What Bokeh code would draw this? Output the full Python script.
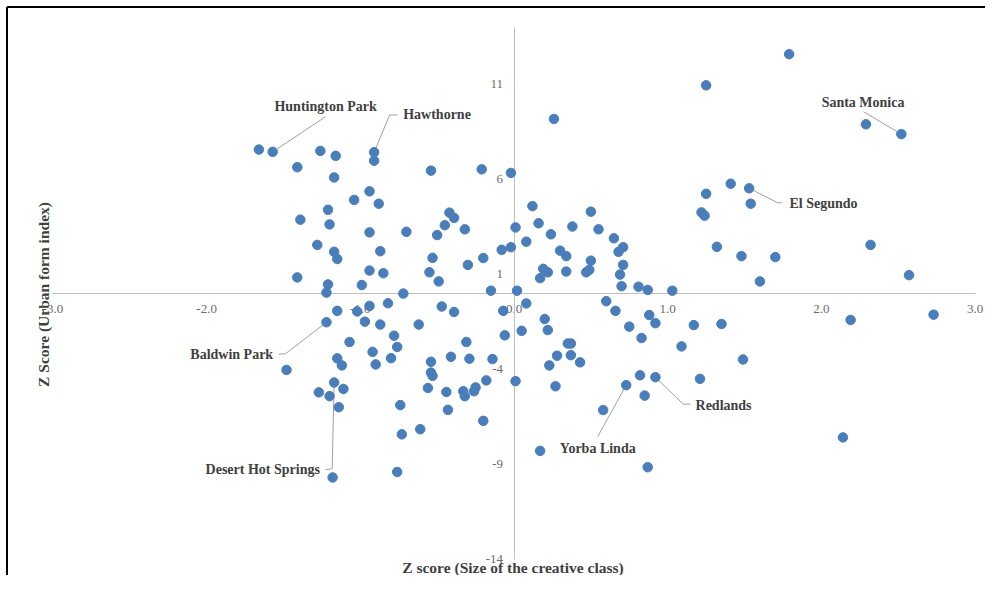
import math
from bokeh.plotting import figure
from bokeh.models import (Range1d, LinearAxis, FixedTicker, NumeralTickFormatter,
                          ColumnDataSource, Label)
from bokeh.embed import file_html
from bokeh.resources import INLINE

# ---------------- data ----------------
x_ticks = [-3, -2, -1, 0, 1, 2, 3]
y_ticks = [-14, -9, -4, 1, 6, 11]

creative_z = [
    # upper left
    -1.66, -1.26, -1.16, -0.91, -1.41, -1.17, -0.54, -0.21, -0.94, -1.04, -0.88, -1.21, -1.39,
    -1.20, -0.42, -0.39, -0.45, -0.32, -0.50, -0.94, -0.70, -1.28, -1.17, -1.15, -0.87, -0.53,
    -0.20, -0.30, -1.41, -0.94, -0.85, -0.55, -0.49, -1.21, -0.99, -1.22, -0.72, -0.15,
    # upper centre
    -0.02, 0.12, 0.50, 0.16, 0.01, 0.38, 0.55, 0.24, 0.08, 0.65, -0.08, -0.02, 0.30, 0.34, 0.68,
    0.71, 0.50, 0.19, 0.22, 0.17, 0.34, 0.47, 0.49, 0.71, 0.69, 0.70, 0.81, 0.87, 1.03, 0.02, 0.26,
    # upper right
    1.79, 1.25, 2.29, 1.41, 1.54, 1.25, 1.22, 1.24, 1.32, 1.48, 1.70, 2.32, 1.60, 2.57,
    # lower left
    -1.15, -1.02, -0.94, -0.82, -0.97, -0.87, -0.62, -0.47, -0.39, -0.78, -0.76, -1.07, -0.92,
    -0.80, -0.90, -1.15, -1.12, -1.48, -1.11, -1.27, -1.20, -1.14, -0.74, -0.73, -0.61, -0.76,
    -1.18, -0.54, -0.54, -0.53, -0.41, -0.29, -0.31, -0.56, -0.44, -0.33, -0.32, -0.26, -0.25,
    -0.18, -0.43, -0.20, -0.14,
    # lower right
    -0.07, 0.08, -0.06, 0.05, 0.20, 0.22, 0.35, 0.37, 0.37, 0.28, 0.23, 0.43, 0.01, 0.27, 0.60,
    0.66, 0.88, 0.92, 0.75, 0.83, 1.17, 1.35, 1.09, 0.82, 0.85, 1.21, 0.58, 0.17, 0.87, 1.49,
    2.14, 2.19, 2.73,
]
urban_z = [
    7.55, 7.48, 7.22, 6.96, 6.62, 6.08, 6.44, 6.51, 5.35, 4.90, 4.70, 4.38, 3.86,
    3.61, 4.23, 3.95, 3.57, 3.35, 3.05, 3.19, 3.22, 2.53, 2.17, 1.79, 2.20, 1.85,
    1.84, 1.48, 0.82, 1.18, 1.04, 1.09, 0.61, 0.45, 0.42, 0.02, -0.03, 0.12,
    6.32, 4.57, 4.28, 3.67, 3.45, 3.50, 3.35, 3.09, 2.70, 2.88, 2.27, 2.41, 2.23, 1.94, 2.17,
    2.41, 1.70, 1.27, 1.09, 0.78, 1.13, 1.09, 1.22, 1.48, 0.97, 0.36, 0.33, 0.16, 0.12, 0.12, 9.16,
    12.57, 10.93, 8.88, 5.75, 4.70, 5.22, 4.24, 4.07, 2.43, 1.94, 1.89, 2.53, 0.61, 0.94,
    -0.94, -0.97, -0.68, -0.54, -1.51, -1.66, -1.66, -0.71, -1.00, -2.25, -2.84, -2.58, -3.10,
    -3.43, -3.76, -3.44, -3.81, -4.05, -5.05, -5.23, -5.43, -6.01, -5.90, -7.44, -7.17, -9.42,
    -9.71, -3.62, -4.19, -4.36, -3.36, -3.46, -2.58, -5.00, -5.21, -5.17, -5.43, -5.17, -4.97,
    -4.60, -6.15, -6.73, -3.48,
    -0.94, -0.55, -2.23, -1.99, -1.37, -1.95, -2.66, -2.66, -3.27, -3.30, -3.81, -3.65, -4.64,
    -4.91, -0.43, -0.94, -1.16, -1.59, -1.77, -2.37, -1.69, -1.63, -2.81, -4.33, -5.40, -4.52,
    -6.16, -8.31, -9.17, -3.50, -7.60, -1.42, -1.14,
]

labeled_cities = ["Huntington Park", "Hawthorne", "Santa Monica", "El Segundo",
                  "Baldwin Park", "Desert Hot Springs", "Redlands", "Yorba Linda"]
labeled_creative_z = [-1.57, -0.91, 2.52, 1.53, -1.22, -1.17, 0.92, 0.73]
labeled_urban_z = [7.43, 7.41, 8.36, 5.51, -1.54, -4.71, -4.43, -4.85]

x_title = "Z score (Size of the creative class)"
y_title = "Z Score (Urban form index)"

# ---------------- layout ----------------
W, H = 985, 575
X0_PX, Y0_PX = 513.5, 292.5          # origin inside the canvas (px from top-left)
PX_PER_X, PX_PER_Y = 153.7, 19.0

x_range = Range1d(-X0_PX / PX_PER_X, (W - X0_PX) / PX_PER_X)
y_range = Range1d(-(H - Y0_PX) / PX_PER_Y, Y0_PX / PX_PER_Y)


def px_to_data(px, py):
    return (px - X0_PX) / PX_PER_X, (Y0_PX - py) / PX_PER_Y


# label anchor (x, y, align) and elbow points of leader lines, in data units
label_layout = {
    "Huntington Park": ((-1.226, 9.80, "center"), [(-1.226, 9.28)]),
    "Hawthorne": ((-0.721, 9.39, "left"), [(-0.758, 9.37), (-0.809, 9.37)]),
    "Santa Monica": ((2.271, 10.01, "center"), [(2.274, 9.54)]),
    "El Segundo": ((1.792, 4.73, "left"), [(1.745, 4.75), (1.716, 4.75)]),
    "Baldwin Park": ((-1.567, -3.22, "right"), [(-1.530, -3.22), (-1.487, -3.20)]),
    "Desert Hot Springs": ((-1.263, -9.30, "right"), [(-1.226, -9.30), (-1.183, -9.25)]),
    "Redlands": ((1.181, -5.90, "left"), [(1.148, -5.85), (1.101, -5.85)]),
    "Yorba Linda": ((0.545, -8.17, "center"), [(0.545, -7.55)]),
}

SERIF = "Liberation Serif"
DOT = "#4A7EBB"
LABEL_COLOR = "#404040"

p = figure(width=W, height=H, output_backend="svg", toolbar_location=None,
           x_range=x_range, y_range=y_range, x_axis_location=None, y_axis_location=None,
           min_border=0, title=None)
p.grid.visible = False
p.outline_line_color = None
p.background_fill_color = "white"
p.border_fill_color = "white"

# axes crossing at origin
xaxis = LinearAxis(fixed_location=0, bounds=(x_ticks[0], x_ticks[-1]),
                   ticker=FixedTicker(ticks=x_ticks),
                   formatter=NumeralTickFormatter(format="0.0"))
yaxis = LinearAxis(fixed_location=0, bounds=(y_ticks[0], 14),
                   ticker=FixedTicker(ticks=y_ticks),
                   formatter=NumeralTickFormatter(format="0"))
for ax, standoff in ((xaxis, 12), (yaxis, 11)):
    ax.axis_line_color = "#bfbfbf"
    ax.axis_line_width = 1
    ax.major_tick_line_color = None
    ax.minor_tick_line_color = None
    ax.major_tick_in = 0
    ax.major_tick_out = 0
    ax.major_label_standoff = standoff
    ax.major_label_text_font = SERIF
    ax.major_label_text_font_size = "13px"
    ax.major_label_text_color = "#6b6b6b"
    ax.level = "underlay"
p.add_layout(xaxis, "below")
p.add_layout(yaxis, "left")

# chart border (top / left)
bx, by = px_to_data(6.5, 6.5)
p.line([bx, bx], [y_range.start, by], line_color="black", line_width=2)
p.line([bx, x_range.end], [by, by], line_color="black", line_width=2)

# leader lines
lx, ly = [], []
for name, cx, cy in zip(labeled_cities, labeled_creative_z, labeled_urban_z):
    _, elbow = label_layout[name]
    lx.append([pt[0] for pt in elbow] + [cx])
    ly.append([pt[1] for pt in elbow] + [cy])
p.multi_line(lx, ly, line_color="#a0a0a0", line_width=1)

# points
src = ColumnDataSource(dict(x=creative_z + labeled_creative_z, y=urban_z + labeled_urban_z))
p.scatter("x", "y", source=src, size=9.5, fill_color=DOT, line_color=DOT, marker="circle")

# data labels
for name in labeled_cities:
    (tx, ty, align), _ = label_layout[name]
    p.add_layout(Label(x=tx, y=ty, text=name, text_align=align, text_baseline="middle",
                       text_font=SERIF, text_font_style="bold", text_font_size="14px",
                       text_color=LABEL_COLOR))

# axis titles
tx, ty = px_to_data(512.5, 567)
p.add_layout(Label(x=tx, y=ty, text=x_title, text_align="center",
                   text_baseline="middle", text_font=SERIF, text_font_style="bold",
                   text_font_size="15.5px", text_color=LABEL_COLOR))
tx, ty = px_to_data(43, 294)
p.add_layout(Label(x=tx, y=ty, text=y_title, text_align="center",
                   text_baseline="middle", angle=math.pi / 2, text_font=SERIF,
                   text_font_style="bold", text_font_size="15.5px", text_color=LABEL_COLOR))

open("out.html", "w").write(file_html(p, INLINE))
